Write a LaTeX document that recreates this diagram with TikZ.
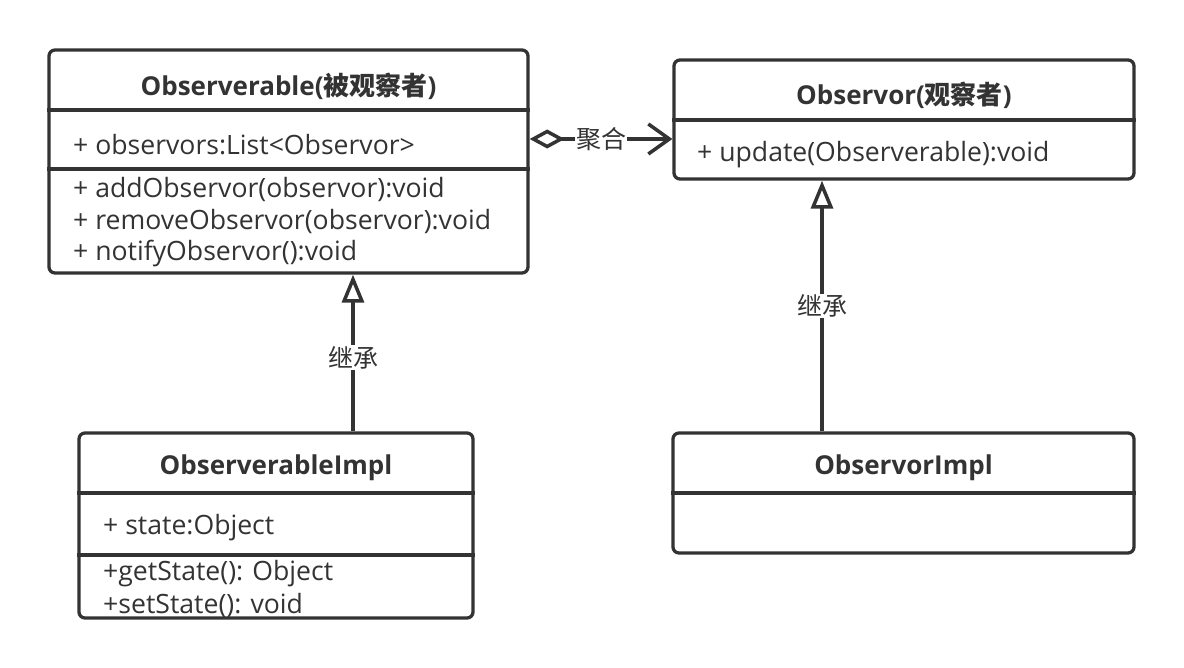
\documentclass[tikz,border=0pt]{standalone}
\usepackage{fontspec}
\setmainfont{Open Sans}
\newfontfamily\cjk{Noto Sans CJK SC}
\usetikzlibrary{arrows.meta}
\definecolor{ink}{HTML}{333333}
\begin{document}
\begin{tikzpicture}[x=1pt,y=-1pt,
  umlbox/.style={draw=ink, line width=3.3pt, rounded corners=6pt, fill=white, inner sep=0pt},
  sepline/.style={draw=ink, line width=3.3pt},
  ttl/.style={font=\fontsize{26}{30}\selectfont\bfseries, text=ink, inner sep=0pt},
  mem/.style={font=\fontsize{26.6}{30}\selectfont, text=ink, anchor=west, inner sep=0pt},
  lbl/.style={font=\fontsize{25}{29}\selectfont\cjk, text=ink, fill=white, inner sep=1pt},
  conn/.style={draw=ink, line width=3.5pt},
]
\useasboundingbox (0,0) rectangle (1184,668);
% boxes
\node[umlbox, minimum width=479pt, minimum height=223pt] (b1) at (288.5,161.5) {};
\node[umlbox, minimum width=460pt, minimum height=119pt] (b2) at (904,119.5) {};
\node[umlbox, minimum width=394pt, minimum height=185pt] (b3) at (276,525.5) {};
\node[umlbox, minimum width=461pt, minimum height=120pt] (b4) at (903.5,493) {};
% separators
\draw[sepline] (b1.west |- 0,110) -- (b1.east |- 0,110);
\draw[sepline] (b1.west |- 0,169) -- (b1.east |- 0,169);
\draw[sepline] (b2.west |- 0,120) -- (b2.east |- 0,120);
\draw[sepline] (b3.west |- 0,493) -- (b3.east |- 0,493);
\draw[sepline] (b3.west |- 0,555) -- (b3.east |- 0,555);
\draw[sepline] (b4.west |- 0,493) -- (b4.east |- 0,493);
% texts
\node[ttl] (t1) at (288.5,86) {Observerable({\cjk\bfseries 被观察者})};
\node[mem] (a1) at (73,145) {+ observors:List<Observor>};
\node[mem] (m1a) at (73,190) {+ addObservor(observor):void};
\node[mem] (m1b) at (73,222) {+ removeObservor(observor):void};
\node[mem] (m1c) at (73,254) {+ notifyObservor():void};
\node[ttl] (t2) at (904,95) {Observor({\cjk\bfseries 观察者})};
\node[mem] (a2) at (697,155) {+ update(Observerable):void};
\node[ttl] (t3) at (276,468) {ObserverableImpl};
\node[mem] (a3) at (103,528) {+ state:Object};
\node[mem] (m3a) at (103,574) {+getState(): Object};
\node[mem] (m3b) at (103,605) {+setState(): void};
\node[ttl] (t4) at (903.5,468) {ObservorImpl};
% connectors
\draw[conn, -{Triangle[open, length=28pt, width=22pt]}] (b3.north -| 353,0) -- (b1.south -| 353,0) node[lbl, pos=0.47] (l1) {继承};
\draw[conn, -{Triangle[open, length=28pt, width=22pt]}] (b4.north -| 822,0) -- (b2.south -| 822,0) node[lbl, pos=0.5] (l2) {继承};
\draw[conn, {Diamond[open, length=35pt, width=19pt]}-{Straight Barb[length=21pt, width=30pt]}] (b1.east |- 0,139) -- (b2.west |- 0,139) node[lbl, pos=0.5] (l3) {聚合};
\end{tikzpicture}
\end{document}
